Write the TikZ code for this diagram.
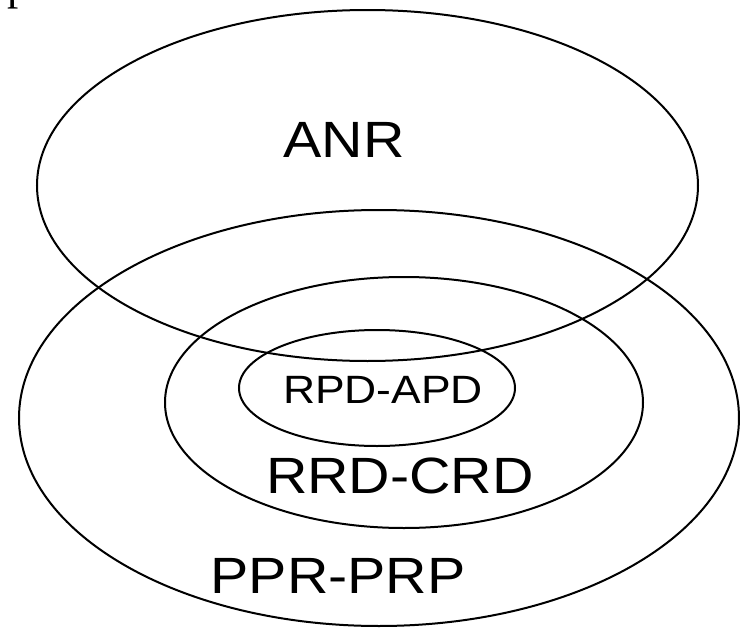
\documentclass[tikz,border=0pt]{standalone}
\usepackage{fontspec}
\setmainfont{Liberation Sans}
\newfontfamily\glyphserif{Liberation Serif}
\usetikzlibrary{shapes.geometric}

\tikzset{
  setline/.style={draw=black, line width=2pt},
  setshape/.style={ellipse, setline, inner sep=0pt, outer sep=0pt},
  biglabel/.style={anchor=base, inner sep=0pt, font=\fontsize{51}{51}\selectfont},
  smalllabel/.style={anchor=base, inner sep=0pt, font=\fontsize{39.5}{39.5}\selectfont},
}
\newcommand{\wide}[1]{\scalebox{1.125}[1]{#1}}

\begin{document}
\begin{tikzpicture}[x=1pt, y=1pt]
  \useasboundingbox (0,0) rectangle (740,-629);

  % fragment of a letter at the upper left edge
  \node[anchor=base west, inner sep=0pt, font=\glyphserif\fontsize{45}{45}\selectfont] (corner) at (7,0) {p};

  % the four sets
  \node[setshape, minimum width=661pt, minimum height=351pt] (anr) at (367.5,-185.5) {};
  \node[setshape, minimum width=720pt, minimum height=416pt] (ppr) at (379,-418) {};
  \node[setshape, minimum width=478pt, minimum height=251pt] (rrd) at (404,-402.5) {};
  \node[setshape, minimum width=276pt, minimum height=116pt] (rpd) at (377,-388) {};

  % set labels
  \node[biglabel] (anrlabel) at (344,-157) {\wide{ANR}};
  \node[smalllabel] (rpdlabel) at (383,-403) {\wide{RPD-APD}};
  \node[biglabel] (rrdlabel) at (400,-493) {\wide{RRD-CRD}};
  \node[biglabel] (pprlabel) at (338,-593) {\wide{PPR-PRP}};
\end{tikzpicture}
\end{document}
